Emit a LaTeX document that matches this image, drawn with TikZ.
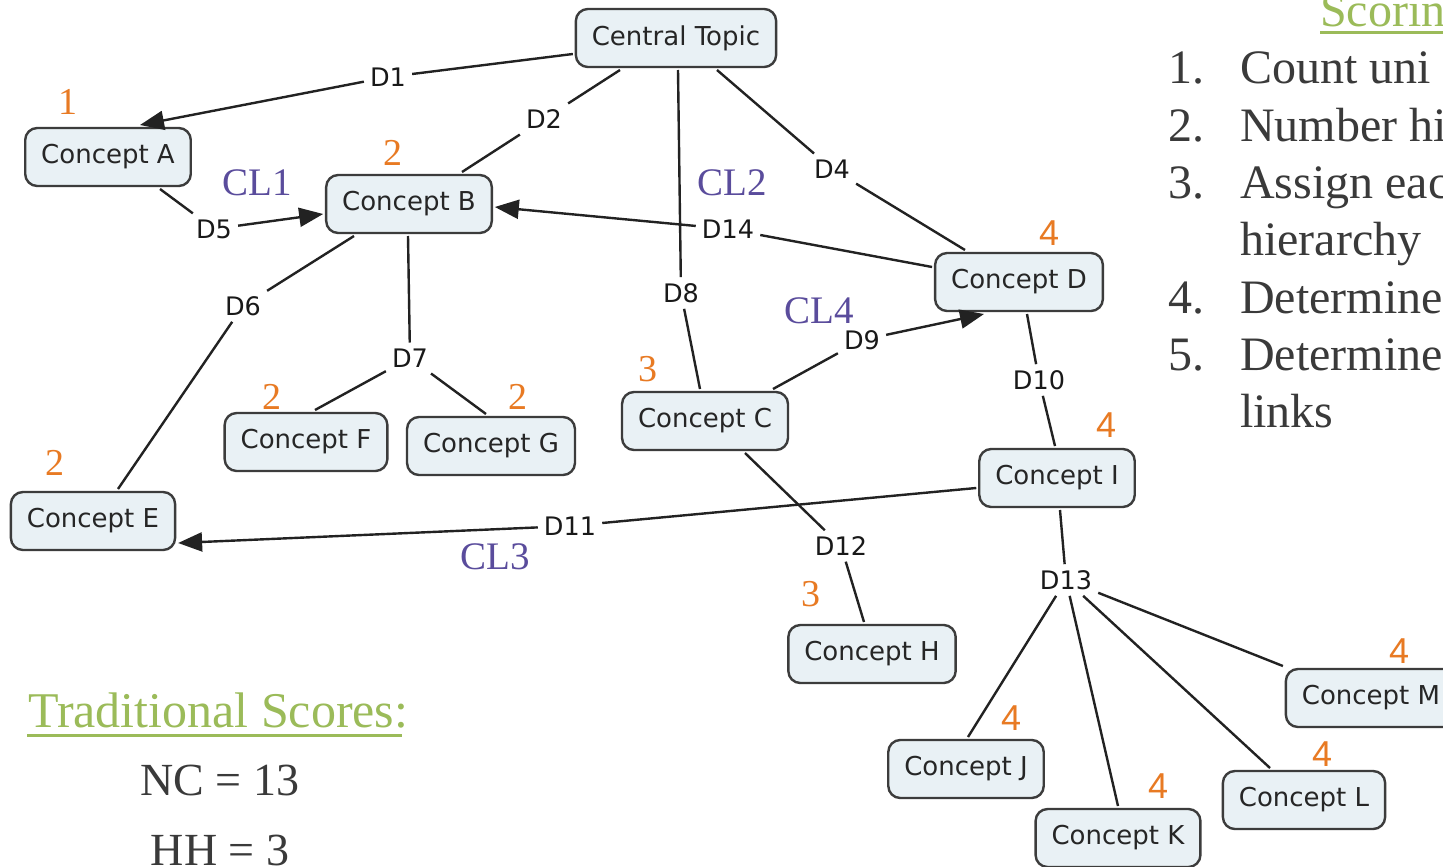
\documentclass[tikz,border=0pt]{standalone}
\usepackage{fontspec}
\setmainfont{Liberation Serif}
\newfontfamily\cmapfont{DejaVu Sans}
\newfontfamily\numsans{Liberation Sans}
\usetikzlibrary{arrows.meta}
\definecolor{boxfill}{HTML}{E9F1F5}
\definecolor{boxline}{HTML}{3C3C3C}
\definecolor{linkline}{HTML}{222222}
\definecolor{levelorange}{HTML}{E87A23}
\definecolor{clpurple}{HTML}{5A4C9C}
\definecolor{headgreen}{HTML}{9BBB59}
\definecolor{bodygray}{HTML}{3A3A3A}

\tikzset{
  concept/.style={draw=boxline, fill=boxfill, line width=2.4pt, rounded corners=12pt,
    minimum height=58pt, inner xsep=16pt, outer sep=3pt, text=black!85,
    font=\cmapfont\fontsize{26}{30}\selectfont},
  linklabel/.style={inner sep=6pt, text=black!90, font=\cmapfont\fontsize{25.5}{30}\selectfont},
  link/.style={draw=linkline, line width=2.4pt},
  arrowlink/.style={link, -{Triangle[length=24pt,width=19pt]}},
  level/.style={text=levelorange, inner sep=0pt, font=\fontsize{38}{40}\selectfont},
  levelsans/.style={text=levelorange, inner sep=0pt, font=\numsans\fontsize{36}{40}\selectfont},
  cluster/.style={text=clpurple, inner sep=0pt, font=\fontsize{39}{40}\selectfont},
  heading/.style={text=headgreen, inner sep=0pt, anchor=base west, font=\fontsize{48}{50}\selectfont},
  bodytext/.style={text=bodygray, inner sep=0pt, anchor=base west, font=\fontsize{48}{50}\selectfont},
  underline/.style={draw=headgreen, line width=3pt}
}

\begin{document}
\begin{tikzpicture}[x=1pt,y=-1pt]
\useasboundingbox (0,0) rectangle (1443,867);
\clip (0,0) rectangle (1443,867);
\fill[white] (0,0) rectangle (1443,867);

% concepts
\node[concept] (CT) at (676,38)  {Central Topic};
\node[concept] (A)  at (108,157) {Concept A};
\node[concept] (B)  at (409,204) {Concept B};
\node[concept] (D)  at (1019,282) {Concept D};
\node[concept] (C)  at (705,421) {Concept C};
\node[concept] (F)  at (306,442) {Concept F};
\node[concept] (G)  at (491,446) {Concept G};
\node[concept] (E)  at (93,521)  {Concept E};
\node[concept] (I)  at (1057,478) {Concept I};
\node[concept] (H)  at (872,654) {Concept H};
\node[concept] (J)  at (966,769) {Concept J};
\node[concept] (K)  at (1118,838) {Concept K};
\node[concept] (L)  at (1304,800) {Concept L};
\node[concept] (M)  at (1371,698) {Concept M};

% link labels
\node[linklabel] (d1)  at (388,77)  {D1};
\node[linklabel] (d2)  at (544,119) {D2};
\node[linklabel] (d4)  at (832,169) {D4};
\node[linklabel] (d5)  at (214,229) {D5};
\node[linklabel] (d6)  at (243,306) {D6};
\node[linklabel] (d7)  at (410,358) {D7};
\node[linklabel] (d8)  at (681,293) {D8};
\node[linklabel] (d9)  at (862,340) {D9};
\node[linklabel] (d10) at (1039,380) {D10};
\node[linklabel] (d11) at (570,526) {D11};
\node[linklabel] (d12) at (841,546) {D12};
\node[linklabel] (d13) at (1066,580) {D13};
\node[linklabel] (d14) at (728,229) {D14};

% connectors
\draw[link] ([yshift=-16pt]CT.west) -- (d1);
\draw[arrowlink] (d1) -- ([xshift=32pt]A.north);
\draw[link] ([xshift=-56pt]CT.south) -- (d2);
\draw[link] (d2) -- ([xshift=53pt]B.north);
\draw[link] ([xshift=2pt]CT.south) -- (d8);
\draw[link] (d8) -- ([xshift=-5pt]C.north);
\draw[link] ([xshift=41pt]CT.south) -- (d4);
\draw[link] (d4) -- ([xshift=-54pt]D.north);
\draw[link] ([xshift=52pt]A.south) -- (d5);
\draw[arrowlink] (d5) -- ([yshift=-10pt]B.west);
\draw[link] ([yshift=15pt]D.west) -- (d14);
\draw[arrowlink] (d14) -- ([yshift=-3pt]B.east);
\draw[link] ([xshift=-55pt]B.south) -- (d6);
\draw[link] (d6) -- ([xshift=25pt]E.north);
\draw[link] ([xshift=-1pt]B.south) -- (d7);
\draw[link] (d7) -- ([xshift=9pt]F.north);
\draw[link] (d7) -- ([xshift=-5pt]G.north);
\draw[link] ([xshift=68pt]C.north) -- (d9);
\draw[arrowlink] (d9) -- ([xshift=-35pt]D.south);
\draw[link] ([xshift=8pt]D.south) -- (d10);
\draw[link] (d10) -- ([xshift=-2pt]I.north);
\draw[link] ([yshift=-10pt]I.west) -- (d11);
\draw[arrowlink] (d11) -- ([yshift=-22pt]E.east);
\draw[link] ([xshift=40pt]C.south) -- (d12);
\draw[link] (d12) -- ([xshift=-8pt]H.north);
\draw[link] ([xshift=3pt]I.south) -- (d13);
\draw[link] (d13) -- ([xshift=2pt]J.north);
\draw[link] (d13) -- (K.north);
\draw[link] (d13) -- ([xshift=-34pt]L.north);
\draw[link] (d13) -- (M.north west);

% hierarchy levels
\node[level] (lA) at (68,102)  {1};
\node[level] (lB) at (393,153) {2};
\node[level] (lF) at (272,397) {2};
\node[level] (lG) at (518,397) {2};
\node[level] (lE) at (55,463)  {2};
\node[level] (lC) at (648,369) {3};
\node[level] (lH) at (811,594) {3};
\node[levelsans] (lD) at (1049,233) {4};
\node[levelsans] (lI) at (1106,425) {4};
\node[levelsans] (lJ) at (1011,718) {4};
\node[levelsans] (lK) at (1158,786) {4};
\node[levelsans] (lL) at (1322,754) {4};
\node[levelsans] (lM) at (1399,651) {4};

% cross-links
\node[cluster] (cl1) at (257,183) {CL1};
\node[cluster] (cl2) at (732,183) {CL2};
\node[cluster] (cl3) at (495,557) {CL3};
\node[cluster] (cl4) at (819,311) {CL4};

% scoring steps
\node[heading] (sh) at (1320,27) {Scorin};
\draw[underline] (1320,33) -- (1443,33);
\node[bodytext] (n1) at (1168,83)  {1.};
\node[bodytext] (t1) at (1240,83)  {Count uni};
\node[bodytext] (n2) at (1168,141) {2.};
\node[bodytext] (t2) at (1240,141) {Number hi};
\node[bodytext] (n3) at (1168,198) {3.};
\node[bodytext] (t3) at (1240,198) {Assign eac};
\node[bodytext] (t3b) at (1240,255) {hierarchy};
\node[bodytext] (n4) at (1168,313) {4.};
\node[bodytext] (t4) at (1240,313) {Determine};
\node[bodytext] (n5) at (1168,370) {5.};
\node[bodytext] (t5) at (1240,370) {Determine};
\node[bodytext] (t5b) at (1240,427) {links};

% traditional scores
\node[heading, font=\fontsize{50}{52}\selectfont] (ts) at (28,727) {Traditional Scores:};
\draw[underline] (27,735) -- (402,735);
\node[bodytext, anchor=base, font=\fontsize{46}{50}\selectfont] (nc) at (220,795) {NC = 13};
\node[bodytext, anchor=base, font=\fontsize{46}{50}\selectfont] (hh) at (220,865) {HH = 3};
\end{tikzpicture}
\end{document}
